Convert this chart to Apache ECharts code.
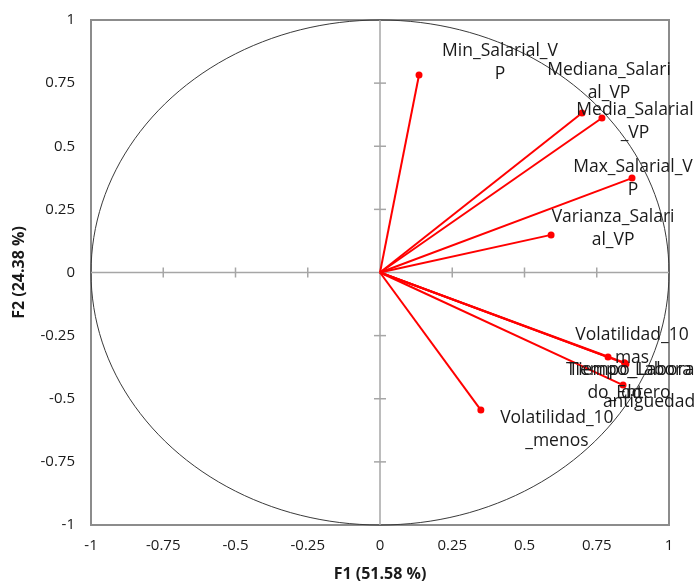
<!DOCTYPE html>
<html>
<head>
<meta charset="utf-8">
<script src="https://cdn.jsdelivr.net/npm/echarts@6/dist/echarts.min.js"></script>
<style>
  html, body { margin: 0; padding: 0; background: #fff; }
  #chart { width: 697px; height: 587px; }
</style>
</head>
<body>
<div id="chart"></div>
<script>
// ---- Data ----
const variables = [
  'Min_Salarial_VP', 'Mediana_Salarial_VP', 'Media_Salarial_VP', 'Max_Salarial_VP',
  'Varianza_Salarial_VP', 'Volatilidad_10_mas', 'Tiempo_Laborado_Entero',
  'Tiempo_Laborado', 'antiguedad', 'Volatilidad_10_menos'
];
// Labels as wrapped in the reference
const displayLabels = [
  'Min_Salarial_V\nP', 'Mediana_Salari\nal_VP', 'Media_Salarial\n_VP', 'Max_Salarial_V\nP',
  'Varianza_Salari\nal_VP', 'Volatilidad_10\nmas', 'Tiempo_Labora\ndo_Entero',
  'Tiempo_Labora\ndo', 'antiguedad', 'Volatilidad_10\n_menos'
];
const f1 = [0.135, 0.699, 0.768, 0.872, 0.592, 0.789, 0.851, 0.846, 0.841, 0.349];
const f2 = [0.782, 0.632, 0.612, 0.374, 0.149, -0.335, -0.362, -0.357, -0.446, -0.545];
const tickValues = [-1, -0.75, -0.5, -0.25, 0, 0.25, 0.5, 0.75, 1];
const xAxisTitle = 'F1 (51.58 %)';
const yAxisTitle = 'F2 (24.38 %)';

// ---- Styling (label offsets relative to the point, pixels) ----
const labelOffsets = [
  [81, -13], [27, -31], [33, 4], [1, 0], [62, -6],
  [24, -11], [3, 18], [7, 19], [26, 17], [76, 19]
];
const FONT = '"Open Sans", "Noto Sans", sans-serif';
const RED = '#ff0000';

const chart = echarts.init(document.getElementById('chart'), null, { renderer: 'canvas' });

const vectorSeries = variables.map((name, i) => ({
  type: 'line',
  name: name,
  z: 3,
  silent: true,
  animation: false,
  lineStyle: { color: RED, width: 2 },
  itemStyle: { color: RED },
  symbol: 'circle',
  symbolSize: 7,
  showSymbol: true,
  data: [
    { value: [0, 0], symbol: 'none', label: { show: false } },
    {
      value: [f1[i], f2[i]],
      label: {
        show: true,
        position: 'inside',
        offset: labelOffsets[i],
        formatter: () => displayLabels[i],
        fontFamily: FONT,
        fontSize: 17.5,
        lineHeight: 23,
        color: '#1a1a1a',
        align: 'center',
        verticalAlign: 'middle'
      }
    }
  ]
}));

// Correlation circle + zero axes with cross ticks, drawn through the axes' coordinate system
const frameSeries = {
  type: 'custom',
  z: 1,
  silent: true,
  animation: false,
  clip: false,
  data: [[0, 0]],
  renderItem: function (params, api) {
    const children = [];
    // unit circle (geometry, not data)
    const pts = [];
    for (let a = 0; a <= 360; a += 2) {
      const r = a * Math.PI / 180;
      pts.push(api.coord([Math.cos(r), Math.sin(r)]));
    }
    children.push({
      type: 'polyline',
      shape: { points: pts },
      style: { stroke: '#3a3a3a', lineWidth: 1, fill: null }
    });
    const o = api.coord([0, 0]);
    const l = api.coord([-1, 0]);
    const r = api.coord([1, 0]);
    const t = api.coord([0, 1]);
    const b = api.coord([0, -1]);
    const axisStyle = { stroke: '#a6a6a6', lineWidth: 1.5 };
    children.push({ type: 'line', shape: { x1: l[0], y1: o[1], x2: r[0], y2: o[1] }, style: axisStyle });
    children.push({ type: 'line', shape: { x1: o[0], y1: t[1], x2: o[0], y2: b[1] }, style: axisStyle });
    tickValues.forEach(v => {
      if (v === 0 || Math.abs(v) === 1) return;
      const px = api.coord([v, 0]);
      children.push({ type: 'line', shape: { x1: px[0], y1: px[1] - 5, x2: px[0], y2: px[1] + 5 }, style: axisStyle });
      const py = api.coord([0, v]);
      children.push({ type: 'line', shape: { x1: py[0] - 6, y1: py[1], x2: py[0] + 6, y2: py[1] }, style: axisStyle });
    });
    return { type: 'group', children: children };
  }
};

const option = {
  backgroundColor: '#ffffff',
  animation: false,
  grid: {
    left: 91, right: 28, top: 20, bottom: 62,
    show: true,
    borderColor: '#8c8c8c',
    borderWidth: 2,
    backgroundColor: 'transparent'
  },
  xAxis: {
    type: 'value',
    min: tickValues[0],
    max: tickValues[tickValues.length - 1],
    interval: 0.25,
    axisLine: { show: false, onZero: false },
    axisTick: { show: false },
    splitLine: { show: false },
    axisLabel: {
      fontFamily: FONT, fontSize: 15, color: '#1a1a1a', margin: 13
    },
    name: xAxisTitle,
    nameLocation: 'middle',
    nameGap: 41,
    nameTextStyle: { fontFamily: FONT, fontSize: 16, fontWeight: 'bold', color: '#1a1a1a' }
  },
  yAxis: {
    type: 'value',
    min: tickValues[0],
    max: tickValues[tickValues.length - 1],
    interval: 0.25,
    axisLine: { show: false, onZero: false },
    axisTick: { show: false },
    splitLine: { show: false },
    axisLabel: {
      fontFamily: FONT, fontSize: 15, color: '#1a1a1a', margin: 16
    },
    name: yAxisTitle,
    nameLocation: 'middle',
    nameGap: 64,
    nameRotate: 90,
    nameTextStyle: { fontFamily: FONT, fontSize: 16, fontWeight: 'bold', color: '#1a1a1a' }
  },
  series: [frameSeries].concat(vectorSeries)
};

chart.setOption(option);
</script>
</body>
</html>
